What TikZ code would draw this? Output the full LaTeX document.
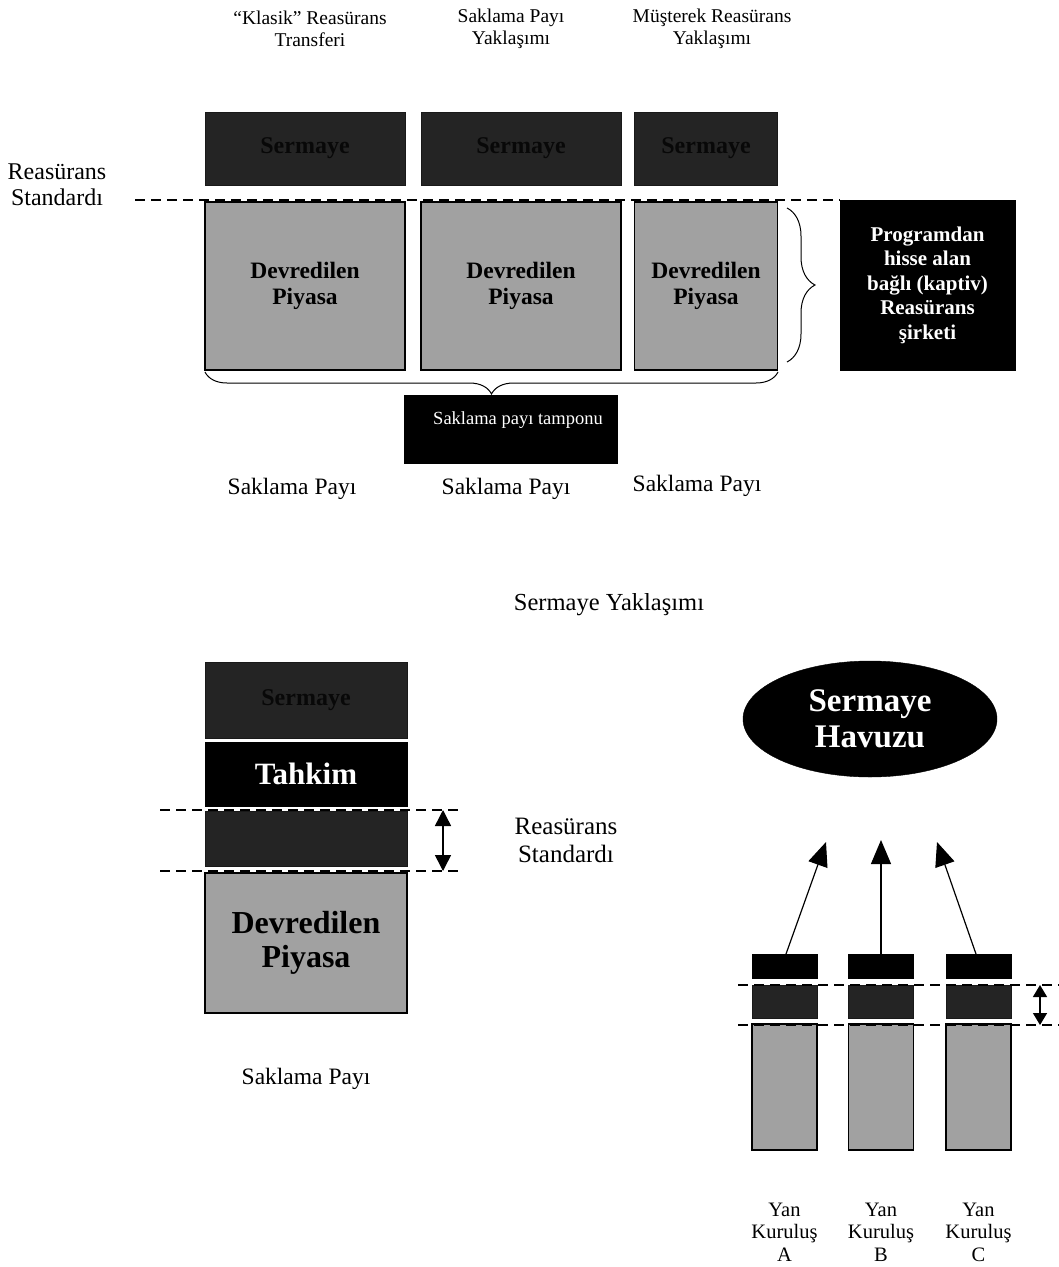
\documentclass[tikz,border=0pt]{standalone}
\usepackage{fontspec}
\setmainfont{Liberation Serif}
\usetikzlibrary{shapes.geometric,decorations.pathreplacing,arrows.meta}
\begin{document}
\begin{tikzpicture}[x=1pt,y=-1pt,
  lightbox/.style={draw=black, line width=1.6pt, fill=black!37, inner sep=0pt, font=\fontsize{23.5}{26}\selectfont\bfseries, align=center},
  darkbox/.style={draw=black!90, line width=1pt, fill=black!86, inner sep=0pt, text=black!97, font=\fontsize{24}{26}\selectfont\bfseries},
  blackbox/.style={draw=black, fill=black, inner sep=0pt, text=white, align=center},
  plain/.style={inner sep=0pt, align=center, font=\fontsize{23.5}{26}\selectfont},
  stdline/.style={line width=1.6pt, dash pattern=on 10pt off 6pt},
  bigarrow/.style={line width=1.2pt, -{Triangle[length=24pt,width=20pt]}},
  dblarrow/.style={line width=1.5pt, {Triangle[length=16pt,width=16pt]}-{Triangle[length=16pt,width=16pt]}}
]
\useasboundingbox[fill=white] (0,0) rectangle (1059,1267);

% headers
\node[plain, font=\fontsize{19.5}{22}\selectfont] (h1) at (310,29) {``Klasik'' Reasürans\\Transferi};
\node[plain, font=\fontsize{19.5}{22}\selectfont] (h2) at (511,29) {Saklama Payı\\Yaklaşımı};
\node[plain, font=\fontsize{19.5}{22}\selectfont] (h3) at (712,29) {Müşterek Reasürans\\Yaklaşımı};

% left label
\node[plain, font=\fontsize{24}{26}\selectfont] (rs1) at (57,185) {Reasürans\\Standardı};

% top dark boxes
\node[darkbox, minimum width=200pt, minimum height=73pt] (s1) at (305,148.5) {Sermaye};
\node[darkbox, minimum width=200pt, minimum height=73pt] (s2) at (521,148.5) {Sermaye};
\node[darkbox, minimum width=143pt, minimum height=73pt] (s3) at (706,148.5) {Sermaye};

% light boxes
\node[lightbox, minimum width=200pt, minimum height=168pt] (d1) at (305,286) {Devredilen\\Piyasa};
\node[lightbox, minimum width=200pt, minimum height=168pt] (d2) at (521,286) {Devredilen\\Piyasa};
\node[lightbox, minimum width=143pt, minimum height=168pt] (d3) at (706,286) {Devredilen\\Piyasa};

% standard dashed line
\coordinate (sl1) at (135,200);
\coordinate (sl2) at (840,200);
\draw[stdline] (sl1) -- (sl2);

% right brace and captive box
\coordinate (rb1) at (787,208);
\coordinate (rb2) at (787,362);
\draw[line width=1pt, decorate, decoration={brace, amplitude=28pt}] (rb1) -- (rb2);
\node[blackbox, minimum width=175pt, minimum height=170pt, font=\fontsize{21}{24.5}\selectfont\bfseries] (cap) at (927.5,285) {Programdan\\hisse alan\\bağlı (kaptiv)\\Reasürans\\şirketi};

% bottom brace and buffer box
\coordinate (bb1) at (205,372);
\coordinate (bb2) at (778,372);
\draw[line width=1pt, decorate, decoration={brace, amplitude=22pt, mirror}] (bb1) -- (bb2);
\node[blackbox, minimum width=213pt, minimum height=68pt] (tamp) at (510.5,429) {};
\node[plain, text=white, font=\fontsize{18.5}{20}\selectfont] (tampl) at (518,420) {Saklama payı tamponu};

% Saklama Payi labels
\node[plain] (sp1) at (292,489) {Saklama Payı};
\node[plain] (sp2) at (506,489) {Saklama Payı};
\node[plain] (sp3) at (697,486) {Saklama Payı};

% section title
\node[plain, font=\fontsize{24.5}{26}\selectfont] (sy) at (609,605) {Sermaye Yaklaşımı};

% bottom-left stack
\node[darkbox, minimum width=202pt, minimum height=76pt] (bs1) at (306,700) {Sermaye};
\node[blackbox, minimum width=202pt, minimum height=64pt, font=\fontsize{31}{33}\selectfont\bfseries] (bt) at (306,774) {Tahkim};
\node[darkbox, minimum width=202pt, minimum height=55pt] (bs3) at (306,838.5) {};
\node[lightbox, minimum width=202pt, minimum height=140pt, font=\fontsize{32}{34}\selectfont\bfseries] (bd) at (306,943) {Devredilen\\Piyasa};
\coordinate (bl1) at (160,810);
\coordinate (bl2) at (460,810);
\coordinate (bl3) at (160,871);
\coordinate (bl4) at (460,871);
\draw[stdline] (bl1) -- (bl2);
\draw[stdline] (bl3) -- (bl4);
\coordinate (ba1) at (443,810);
\coordinate (ba2) at (443,871);
\draw[dblarrow] (ba1) -- (ba2);
\node[plain, font=\fontsize{25}{28}\selectfont] (rs2) at (566,840) {Reasürans\\Standardı};
\node[plain] (sp4) at (306,1079) {Saklama Payı};

% capital pool
\node[ellipse, fill=black, draw=black, minimum width=254pt, minimum height=116pt, text=white, align=center, font=\fontsize{33}{36}\selectfont\bfseries] (pool) at (870,719) {Sermaye\\Havuzu};

% subsidiaries
\foreach \n/\x in {A/784.5,B/881,C/978.5}{
  \node[blackbox, minimum width=65pt, minimum height=24pt] (k\n) at (\x,966) {};
  \node[darkbox, minimum width=65pt, minimum height=33pt] (m\n) at (\x,1001.5) {};
  \node[lightbox, minimum width=65pt, minimum height=126pt, line width=1.3pt] (l\n) at (\x,1087) {};
  \node[plain, font=\fontsize{20.5}{22.5}\selectfont] (y\n) at (\x,1232) {Yan\\Kuruluş\\\n};
}
\coordinate (tA) at (826,842);
\coordinate (tB) at (881,840);
\coordinate (tC) at (937,842);
\coordinate (oA) at (786,954);
\coordinate (oB) at (881,954);
\coordinate (oC) at (976,954);
\draw[bigarrow] (oA) -- (tA);
\draw[bigarrow] (oB) -- (tB);
\draw[bigarrow] (oC) -- (tC);
\coordinate (sd1) at (738,985);
\coordinate (sd2) at (1059,985);
\coordinate (sd3) at (738,1025);
\coordinate (sd4) at (1059,1025);
\draw[stdline] (sd1) -- (sd2);
\draw[stdline] (sd3) -- (sd4);
\coordinate (sa1) at (1040,985);
\coordinate (sa2) at (1040,1025);
\draw[line width=1.5pt, {Triangle[length=12pt,width=14pt]}-{Triangle[length=12pt,width=14pt]}] (sa1) -- (sa2);
\end{tikzpicture}
\end{document}
